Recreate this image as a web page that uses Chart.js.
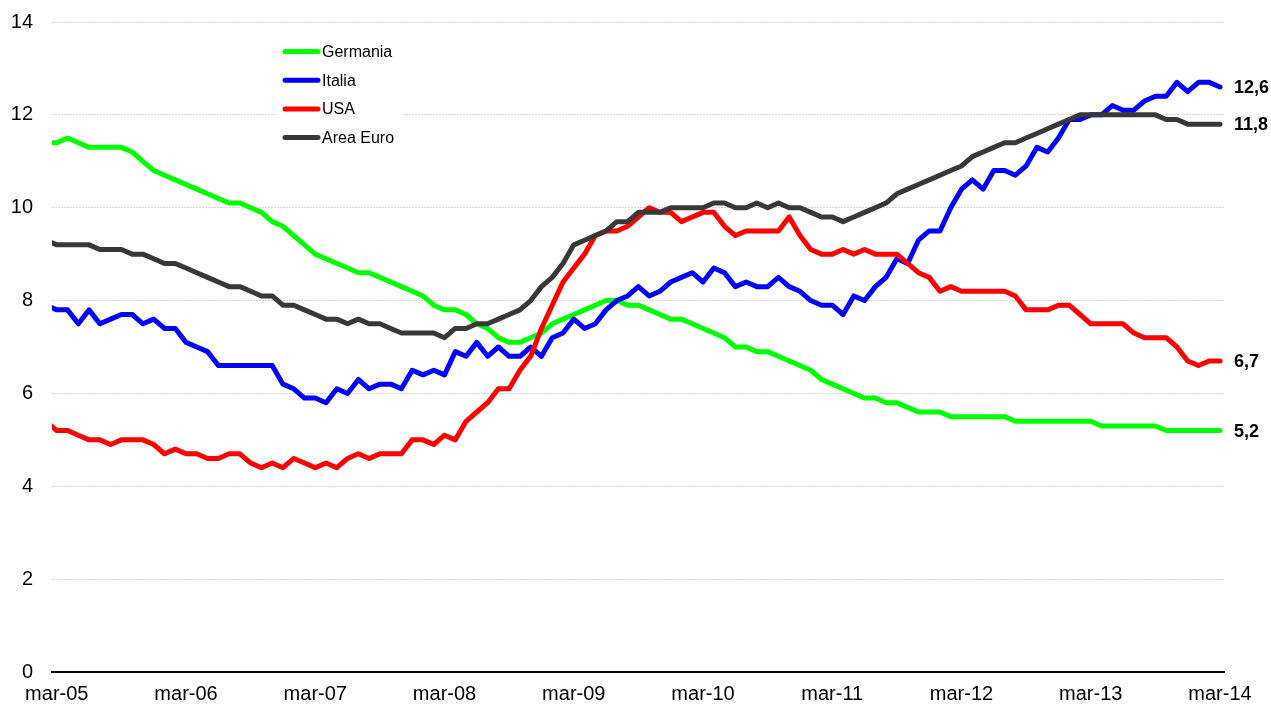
<!DOCTYPE html>
<html lang="it">
<head>
<meta charset="UTF-8" />
<title>Tasso di disoccupazione</title>
<style>
  body { margin: 0; padding: 0; background: #fff; }
  #wrap { width: 1271px; height: 706px; position: relative; }
</style>
</head>
<body>
<div id="wrap"><canvas id="chart"></canvas></div>

<script src="https://cdn.jsdelivr.net/npm/chart.js"></script>
<script>
  // dati mensili feb-05 .. mar-14 (indice 0 = feb-05, 1 = mar-05)
  const tickLabels = ['mar-05', 'mar-06', 'mar-07', 'mar-08', 'mar-09', 'mar-10', 'mar-11', 'mar-12', 'mar-13', 'mar-14'];
  const tickIndex = [1, 13, 25, 37, 49, 61, 73, 85, 97, 109];

  const germania = [
    11.4, 11.4, 11.5, 11.4, 11.3, 11.3, 11.3, 11.3, 11.2, 11.0,
    10.8, 10.7, 10.6, 10.5, 10.4, 10.3, 10.2, 10.1, 10.1, 10.0,
    9.9, 9.7, 9.6, 9.4, 9.2, 9.0, 8.9, 8.8, 8.7, 8.6,
    8.6, 8.5, 8.4, 8.3, 8.2, 8.1, 7.9, 7.8, 7.8, 7.7,
    7.5, 7.4, 7.2, 7.1, 7.1, 7.2, 7.3, 7.5, 7.6, 7.7,
    7.8, 7.9, 8.0, 8.0, 7.9, 7.9, 7.8, 7.7, 7.6, 7.6,
    7.5, 7.4, 7.3, 7.2, 7.0, 7.0, 6.9, 6.9, 6.8, 6.7,
    6.6, 6.5, 6.3, 6.2, 6.1, 6.0, 5.9, 5.9, 5.8, 5.8,
    5.7, 5.6, 5.6, 5.6, 5.5, 5.5, 5.5, 5.5, 5.5, 5.5,
    5.4, 5.4, 5.4, 5.4, 5.4, 5.4, 5.4, 5.4, 5.3, 5.3,
    5.3, 5.3, 5.3, 5.3, 5.2, 5.2, 5.2, 5.2, 5.2, 5.2
  ];
  const italia = [
    7.9, 7.8, 7.8, 7.5, 7.8, 7.5, 7.6, 7.7, 7.7, 7.5,
    7.6, 7.4, 7.4, 7.1, 7.0, 6.9, 6.6, 6.6, 6.6, 6.6,
    6.6, 6.6, 6.2, 6.1, 5.9, 5.9, 5.8, 6.1, 6.0, 6.3,
    6.1, 6.2, 6.2, 6.1, 6.5, 6.4, 6.5, 6.4, 6.9, 6.8,
    7.1, 6.8, 7.0, 6.8, 6.8, 7.0, 6.8, 7.2, 7.3, 7.6,
    7.4, 7.5, 7.8, 8.0, 8.1, 8.3, 8.1, 8.2, 8.4, 8.5,
    8.6, 8.4, 8.7, 8.6, 8.3, 8.4, 8.3, 8.3, 8.5, 8.3,
    8.2, 8.0, 7.9, 7.9, 7.7, 8.1, 8.0, 8.3, 8.5, 8.9,
    8.8, 9.3, 9.5, 9.5, 10.0, 10.4, 10.6, 10.4, 10.8, 10.8,
    10.7, 10.9, 11.3, 11.2, 11.5, 11.9, 11.9, 12.0, 12.0, 12.2,
    12.1, 12.1, 12.3, 12.4, 12.4, 12.7, 12.5, 12.7, 12.7, 12.6
  ];
  const usa = [
    5.4, 5.2, 5.2, 5.1, 5.0, 5.0, 4.9, 5.0, 5.0, 5.0,
    4.9, 4.7, 4.8, 4.7, 4.7, 4.6, 4.6, 4.7, 4.7, 4.5,
    4.4, 4.5, 4.4, 4.6, 4.5, 4.4, 4.5, 4.4, 4.6, 4.7,
    4.6, 4.7, 4.7, 4.7, 5.0, 5.0, 4.9, 5.1, 5.0, 5.4,
    5.6, 5.8, 6.1, 6.1, 6.5, 6.8, 7.4, 7.9, 8.4, 8.7,
    9.0, 9.4, 9.5, 9.5, 9.6, 9.8, 10.0, 9.9, 9.9, 9.7,
    9.8, 9.9, 9.9, 9.6, 9.4, 9.5, 9.5, 9.5, 9.5, 9.8,
    9.4, 9.1, 9.0, 9.0, 9.1, 9.0, 9.1, 9.0, 9.0, 9.0,
    8.8, 8.6, 8.5, 8.2, 8.3, 8.2, 8.2, 8.2, 8.2, 8.2,
    8.1, 7.8, 7.8, 7.8, 7.9, 7.9, 7.7, 7.5, 7.5, 7.5,
    7.5, 7.3, 7.2, 7.2, 7.2, 7.0, 6.7, 6.6, 6.7, 6.7
  ];
  const areaEuro = [
    9.3, 9.2, 9.2, 9.2, 9.2, 9.1, 9.1, 9.1, 9.0, 9.0,
    8.9, 8.8, 8.8, 8.7, 8.6, 8.5, 8.4, 8.3, 8.3, 8.2,
    8.1, 8.1, 7.9, 7.9, 7.8, 7.7, 7.6, 7.6, 7.5, 7.6,
    7.5, 7.5, 7.4, 7.3, 7.3, 7.3, 7.3, 7.2, 7.4, 7.4,
    7.5, 7.5, 7.6, 7.7, 7.8, 8.0, 8.3, 8.5, 8.8, 9.2,
    9.3, 9.4, 9.5, 9.7, 9.7, 9.9, 9.9, 9.9, 10.0, 10.0,
    10.0, 10.0, 10.1, 10.1, 10.0, 10.0, 10.1, 10.0, 10.1, 10.0,
    10.0, 9.9, 9.8, 9.8, 9.7, 9.8, 9.9, 10.0, 10.1, 10.3,
    10.4, 10.5, 10.6, 10.7, 10.8, 10.9, 11.1, 11.2, 11.3, 11.4,
    11.4, 11.5, 11.6, 11.7, 11.8, 11.9, 12.0, 12.0, 12.0, 12.0,
    12.0, 12.0, 12.0, 12.0, 11.9, 11.9, 11.8, 11.8, 11.8, 11.8
  ];

  const FONT = '"Liberation Sans", Arial, sans-serif';
  const toPoints = arr => arr.map((v, i) => ({ x: i, y: v }));

  function serie(label, values, color, order) {
    return {
      label, data: toPoints(values), borderColor: color, backgroundColor: color,
      borderWidth: 5, pointRadius: 0, tension: 0, order,
      borderJoinStyle: 'round', borderCapStyle: 'round',
      clip: { left: 0, right: 6, top: 6, bottom: 6 }
    };
  }

  // legenda dentro il grafico, con fondo bianco
  const legendBox = {
    id: 'legendBox',
    afterDatasetsDraw(chart) {
      const ctx = chart.ctx;
      ctx.save();
      ctx.fillStyle = '#fff';
      ctx.fillRect(277, 38, 126, 112);
      chart.data.datasets.forEach((ds, i) => {
        const y = 51.5 + i * 28.7;
        ctx.strokeStyle = ds.borderColor;
        ctx.lineWidth = 5;
        ctx.lineCap = 'round';
        ctx.beginPath();
        ctx.moveTo(285, y);
        ctx.lineTo(318, y);
        ctx.stroke();
        ctx.fillStyle = '#000';
        ctx.font = '16px ' + FONT;
        ctx.textBaseline = 'middle';
        ctx.fillText(ds.label, 322, y + 1);
      });
      ctx.restore();
    }
  };

  // etichette dell'ultimo valore a destra
  const endLabels = {
    id: 'endLabels',
    afterDatasetsDraw(chart) {
      const ctx = chart.ctx;
      ctx.save();
      ctx.font = 'bold 18px ' + FONT;
      ctx.fillStyle = '#000';
      ctx.textBaseline = 'middle';
      chart.data.datasets.forEach((ds, i) => {
        const meta = chart.getDatasetMeta(i);
        const pt = meta.data[meta.data.length - 1];
        const v = ds.data[ds.data.length - 1].y;
        ctx.fillText(v.toFixed(1).replace('.', ','), pt.x + 14, pt.y + 1);
      });
      ctx.restore();
    }
  };

  new Chart(document.getElementById('chart'), {
    type: 'line',
    data: {
      datasets: [
        serie('Germania', germania, '#00ff00', 4),
        serie('Italia', italia, '#0000ff', 3),
        serie('USA', usa, '#ff0000', 2),
        serie('Area Euro', areaEuro, '#383838', 1)
      ]
    },
    options: {
      responsive: true,
      maintainAspectRatio: false,
      animation: false,
      layout: { padding: { top: 22, right: 47, bottom: 0, left: 0 } },
      plugins: { legend: { display: false }, tooltip: { enabled: false } },
      scales: {
        x: {
          type: 'linear',
          min: 0.557,
          max: 109.37,
          afterFit: scale => { scale.height = 34; },
          grid: { display: false, drawTicks: false },
          border: { display: true, color: '#000', width: 2 },
          afterBuildTicks: scale => { scale.ticks = tickIndex.map(v => ({ value: v })); },
          ticks: {
            autoSkip: false, maxRotation: 0, padding: 10,
            color: '#000', font: { family: FONT, size: 20 },
            callback: value => tickLabels[tickIndex.indexOf(value)]
          }
        },
        y: {
          min: 0,
          max: 14,
          afterFit: scale => { scale.width = 52; scale.paddingTop = 0; scale.paddingBottom = 0; },
          grid: { color: '#d4d4d4', lineWidth: 1, drawTicks: false },
          border: { display: false, dash: [2, 1] },
          ticks: { stepSize: 2, padding: 19, color: '#000', font: { family: FONT, size: 20 } }
        }
      }
    },
    plugins: [legendBox, endLabels]
  });
</script>
</body>
</html>
